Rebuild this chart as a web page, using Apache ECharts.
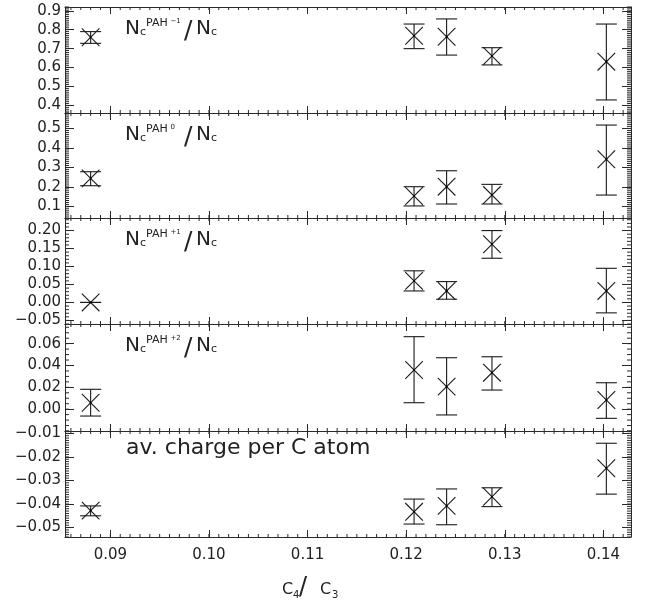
<!DOCTYPE html>
<html>
<head>
<meta charset="utf-8">
<script src="https://cdn.jsdelivr.net/npm/echarts@6/dist/echarts.min.js"></script>
<style>html,body{margin:0;padding:0;background:#fff;}#c{width:648px;height:608px;}</style>
</head>
<body>
<div id="c"></div>
<script>
// ---- data ----
const xRatio = [0.0880, 0.1208, 0.1241, 0.1287, 0.1403];   // C4/C3

const anionFrac = [0.760, 0.768, 0.763, 0.661, 0.631];
const anionLo   = [0.728, 0.700, 0.666, 0.614, 0.429];
const anionHi   = [0.790, 0.830, 0.857, 0.705, 0.830];

const neutralFrac = [0.244, 0.153, 0.201, 0.158, 0.342];
const neutralLo   = [0.206, 0.102, 0.112, 0.112, 0.158];
const neutralHi   = [0.278, 0.201, 0.283, 0.213, 0.518];

const cationFrac = [0.000, 0.060, 0.032, 0.162, 0.032];
const cationLo   = [0.000, 0.032, 0.009, 0.123, -0.029];
const cationHi   = [0.000, 0.088, 0.058, 0.200, 0.095];

const dicationFrac = [0.0059, 0.0359, 0.0206, 0.0334, 0.0084];
const dicationLo   = [-0.0063, 0.0059, -0.0053, 0.0175, -0.0084];
const dicationHi   = [0.0182, 0.0664, 0.0471, 0.0480, 0.0242];

const avCharge   = [-0.0428, -0.0433, -0.0408, -0.0369, -0.0248];
const avChargeLo = [-0.0450, -0.0485, -0.0488, -0.0411, -0.0358];
const avChargeHi = [-0.0408, -0.0379, -0.0336, -0.0331, -0.0142];

// tick labels
const xTicks = [0.09, 0.10, 0.11, 0.12, 0.13, 0.14];
const yTicksAnion = [0.4, 0.5, 0.6, 0.7, 0.8, 0.9];
const yTicksNeutral = [0.1, 0.2, 0.3, 0.4, 0.5];
const yTicksCation = [-0.05, 0.00, 0.05, 0.10, 0.15, 0.20];
const yTicksDication = [0.00, 0.02, 0.04, 0.06];
const yTicksCharge = [-0.05, -0.04, -0.03, -0.02, -0.01];
const chargeLabels = ['\u22121', '0', '+1', '+2'];

// ---- layout / styling ----
const X_MIN = 0.0854, X_MAX = 0.1428;
const tops = [7, 113, 218, 324, 431];
const heights = [106, 105, 106, 107, 106];
const yRanges = [[0.36, 0.92], [0.04, 0.58], [-0.06, 0.235], [-0.02, 0.078], [-0.054, -0.009]];
const yMinorStep = [0.01, 0.01, 0.01, 0.005, 0.001];
const yDec = [1, 1, 2, 2, 2];
const yMajor = [yTicksAnion, yTicksNeutral, yTicksCation, yTicksDication, yTicksCharge];

function steps(a, b, s) {
  const out = [];
  const n0 = Math.ceil(a / s - 1e-6), n1 = Math.floor(b / s + 1e-6);
  for (let k = n0; k <= n1; k++) out.push(+(k * s).toFixed(6));
  return out;
}
const xMinor = steps(X_MIN, X_MAX, 0.001);
const LC = '#2a2a2a';
const FONT = 'DejaVu Sans';

function fmt(d) {
  return function (v) {
    const s = Math.abs(v).toFixed(d);
    return (v < -1e-9 ? '\u2212' : '') + s;
  };
}

const grids = [], xAxes = [], yAxes = [], series = [];
for (let i = 0; i < 5; i++) {
  grids.push({ left: 65, right: 17, top: tops[i], height: heights[i], containLabel: false });
  ['bottom', 'top'].forEach(function (pos) {
    xAxes.push({
      type: 'value', gridIndex: i, position: pos, min: X_MIN, max: X_MAX,
      axisLine: { show: true, onZero: false, lineStyle: { color: LC, width: 1 } },
      axisTick: { show: true, inside: true, length: 7, customValues: xTicks, lineStyle: { color: LC } },
      axisLabel: { show: (i === 4 && pos === 'bottom'), customValues: xTicks, formatter: fmt(2),
        margin: 11, fontSize: 15, fontFamily: FONT, color: '#222' },
      splitLine: { show: false }
    });
  });
  ['left', 'right'].forEach(function (pos) {
    yAxes.push({
      type: 'value', gridIndex: i, position: pos, min: yRanges[i][0], max: yRanges[i][1],
      axisLine: { show: true, onZero: false, lineStyle: { color: LC, width: 1 } },
      axisTick: { show: true, inside: true, length: 9, customValues: yMajor[i], lineStyle: { color: LC } },
      axisLabel: { show: pos === 'left', customValues: yMajor[i], formatter: fmt(yDec[i]),
        margin: 4, fontSize: 15, fontFamily: FONT, color: '#222', padding: [4, 0, 0, 0] },
      splitLine: { show: false }
    });
  });
}

function renderErr(params, api) {
  const x = api.value(0), v = api.value(1), lo = api.value(2), hi = api.value(3);
  const c = api.coord([x, v]), t = api.coord([x, hi]), b = api.coord([x, lo]);
  const w = 10.5, m = 8.8;
  const st = { stroke: '#1a1a1a', lineWidth: 1.1 };
  return {
    type: 'group', children: [
      { type: 'line', shape: { x1: t[0], y1: t[1], x2: b[0], y2: b[1] }, style: st },
      { type: 'line', shape: { x1: t[0] - w, y1: t[1], x2: t[0] + w, y2: t[1] }, style: st },
      { type: 'line', shape: { x1: b[0] - w, y1: b[1], x2: b[0] + w, y2: b[1] }, style: st },
      { type: 'line', shape: { x1: c[0] - m, y1: c[1] - m, x2: c[0] + m, y2: c[1] + m }, style: st },
      { type: 'line', shape: { x1: c[0] - m, y1: c[1] + m, x2: c[0] + m, y2: c[1] - m }, style: st },
      { type: 'circle', shape: { cx: c[0], cy: c[1], r: 1 }, style: { fill: '#000' } }
    ]
  };
}

// minor ticks drawn through the axes' own scales
function minorRenderer(i) {
  return function (params, api) {
    const kind = api.value(0), v = api.value(1);
    const st = { stroke: LC, lineWidth: 1 };
    if (kind === 0) {
      const b = api.coord([v, yRanges[i][0]]), t = api.coord([v, yRanges[i][1]]);
      return { type: 'group', children: [
        { type: 'line', shape: { x1: b[0], y1: b[1], x2: b[0], y2: b[1] - 3 }, style: st },
        { type: 'line', shape: { x1: t[0], y1: t[1], x2: t[0], y2: t[1] + 3 }, style: st }
      ] };
    }
    const l = api.coord([X_MIN, v]), r = api.coord([X_MAX, v]);
    return { type: 'group', children: [
      { type: 'line', shape: { x1: l[0], y1: l[1], x2: l[0] + 4, y2: l[1] }, style: st },
      { type: 'line', shape: { x1: r[0], y1: r[1], x2: r[0] - 4, y2: r[1] }, style: st }
    ] };
  };
}

const panels = [
  [anionFrac, anionLo, anionHi],
  [neutralFrac, neutralLo, neutralHi],
  [cationFrac, cationLo, cationHi],
  [dicationFrac, dicationLo, dicationHi],
  [avCharge, avChargeLo, avChargeHi]
];
panels.forEach(function (p, i) {
  series.push({
    type: 'custom', xAxisIndex: 2 * i, yAxisIndex: 2 * i, clip: false,
    renderItem: renderErr,
    encode: { x: 0, y: 1 },
    data: xRatio.map(function (x, j) { return [x, p[0][j], p[1][j], p[2][j]]; })
  });
});
for (let i = 0; i < 5; i++) {
  const yMinor = steps(yRanges[i][0], yRanges[i][1], yMinorStep[i]);
  series.push({
    type: 'custom', xAxisIndex: 2 * i, yAxisIndex: 2 * i, clip: false, silent: true,
    renderItem: minorRenderer(i),
    encode: { x: -1, y: -1 },
    data: xMinor.map(function (v) { return [0, v]; }).concat(yMinor.map(function (v) { return [1, v]; }))
  });
}

function txt(s, x, y, size) {
  return { type: 'text', x: x, y: y, silent: true,
    style: { text: s, fontSize: size, fontFamily: FONT, fill: '#222', align: 'left', verticalAlign: 'middle' } };
}
const graphics = [];
for (let i = 0; i < 4; i++) {
  const t0 = tops[i];
  graphics.push(
    txt('N', 125, t0 + 22, 20),
    txt('c', 140, t0 + 25, 11),
    txt('PAH', 146, t0 + 16, 11),
    txt(chargeLabels[i], 170.5, t0 + 14, 7),
    txt('/', 184, t0 + 24, 25),
    txt('N', 196, t0 + 22, 20),
    txt('c', 211, t0 + 25, 11)
  );
}
graphics.push(txt('av. charge per C atom', 126, tops[4] + 17.5, 22));
// x-axis title C4/C3
graphics.push(
  txt('C', 282, 590, 16),
  txt('4', 293, 595, 10),
  txt('/', 299, 588, 24),
  txt('C', 320, 590, 16),
  txt('3', 332, 595, 10)
);

const chart = echarts.init(document.getElementById('c'), null, { renderer: 'canvas' });
chart.setOption({
  animation: false,
  backgroundColor: '#fff',
  grid: grids,
  xAxis: xAxes,
  yAxis: yAxes,
  series: series,
  graphic: graphics
});
</script>
</body>
</html>
